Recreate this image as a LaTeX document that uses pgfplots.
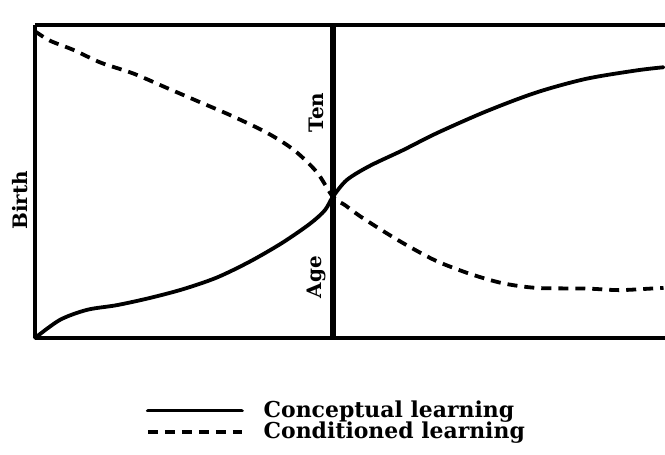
\documentclass[border=0pt]{standalone}
\usepackage{pgfplots}
\pgfplotsset{compat=1.18}
\usepackage{fontspec}
\setmainfont{DejaVu Serif}

\begin{document}
\begin{tikzpicture}
\begin{axis}[
  scale only axis,
  width=315bp, height=156.5bp,
  xmin=0, xmax=21.15,
  ymin=0, ymax=100,
  axis x line*=bottom,
  axis y line*=left,
  axis line style={line width=1.7bp},
  xtick=\empty, ytick=\empty,
  clip=false,
  legend cell align=left,
  legend image code/.code={\draw[#1] (0bp,0bp) -- (47bp,0bp);},
  legend style={at={(rel axis cs:0.166,-0.18)}, anchor=north west,
    draw=none, fill=none, row sep=-1bp,
    font=\bfseries\fontsize{11}{12}\selectfont,
    nodes={inner sep=1pt}},
]
% Conceptual learning
\addplot[black, line width=1.9bp, smooth, tension=0.5, line cap=round] coordinates {
  (0,0) (0.84,5.8) (1.75,9.0) (2.75,10.5) (3.86,12.8) (4.97,15.6)
  (6.1,19.3) (7.21,24.4) (8.3,30.4) (9.23,36.5) (9.73,40.8) (10,45.1)
  (10.47,50.5) (11.24,55.0) (12.35,60.0) (13.5,65.5) (15.17,72.5)
  (16.85,78.5) (18.5,82.8) (20.2,85.5) (21.1,86.5)
};
\addlegendentry{\hspace{9bp}Conceptual learning}
% Conditioned learning
\addplot[black, line width=1.9bp, smooth, tension=0.5, dash pattern=on 5bp off 3.5bp] coordinates {
  (0,98) (0.5,95) (1.3,92) (2.2,88) (3.3,84.5) (4.4,80) (5.5,75.5)
  (6.6,71) (7.8,65.5) (8.7,60) (9.46,53) (10,45.1) (10.4,42.5) (10.9,39)
  (11.8,33.5) (12.6,29) (13.5,24.5) (14.6,20.5) (15.7,17.5) (16.85,16)
  (18.5,15.8) (19.6,15.3) (20.7,15.8) (21.1,16)
};
\addlegendentry{\hspace{9bp}Conditioned learning}
% age ten divider
\addplot[black, line width=2.7bp, forget plot] coordinates {(10,0) (10,100)};
\draw[line width=1.7bp] (rel axis cs:0,1) -- (rel axis cs:1,1);
\node[rotate=90, font=\bfseries\fontsize{10}{12}\selectfont] at (axis cs:-0.5,44) {Birth};
\node[rotate=90, font=\bfseries\fontsize{10}{12}\selectfont] at (axis cs:9.45,72) {Ten};
\node[rotate=90, font=\bfseries\fontsize{10}{12}\selectfont] at (axis cs:9.45,19.5) {Age};
\end{axis}
\pgfresetboundingbox
\path[use as bounding box] (-17.5bp,-58.5bp) rectangle (315bp,169bp);
\end{tikzpicture}
\end{document}
